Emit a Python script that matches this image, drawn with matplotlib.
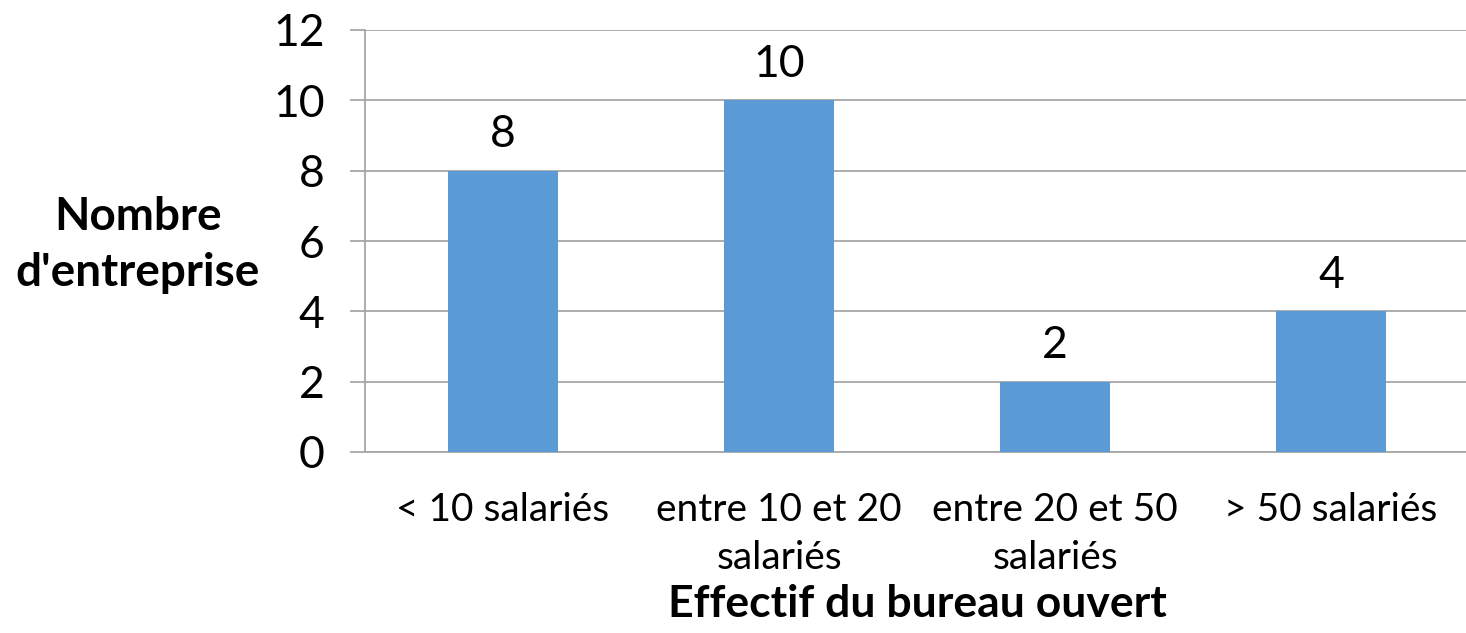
import matplotlib
matplotlib.use("Agg")
import matplotlib.pyplot as plt

categories = ["< 10 salariés", "entre 10 et 20\nsalariés", "entre 20 et 50\nsalariés", "> 50 salariés"]
values = [8, 10, 2, 4]
yticks = [0, 2, 4, 6, 8, 10, 12]

plt.rcParams['font.family'] = ['Lato', 'DejaVu Sans']

W, H = 1466, 633
fig = plt.figure(figsize=(W / 100, H / 100), dpi=100)
left, right, top, bottom = 365, 1469, 30, 452
ax = fig.add_axes([left / W, 1 - bottom / H, (right - left) / W, (bottom - top) / H])

x = list(range(len(categories)))
ax.bar(x, values, width=0.4, color="#5B9BD5", zorder=3)
for xi, v in zip(x, values):
    ax.text(xi, v + 0.45, str(v), ha="center", va="bottom", fontsize=32, color="black")

ax.set_xlim(-0.5, len(categories) - 0.5)
ax.set_ylim(0, 12)
ax.set_yticks(yticks)
ax.set_yticklabels([str(t) for t in yticks], fontsize=32)
ax.set_xticks(x)
ax.set_xticklabels(categories, fontsize=28, linespacing=1.4)
ax.tick_params(axis="x", length=0, pad=29)
ax.tick_params(axis="y", length=11, width=1.3, color="#A6A6A6", pad=18)
ax.yaxis.grid(True, color="#A6A6A6", linewidth=1.3, zorder=0)
for s in ["top", "right"]:
    ax.spines[s].set_visible(False)
for s in ["left", "bottom"]:
    ax.spines[s].set_color("#A6A6A6")
    ax.spines[s].set_linewidth(1.3)

ax.set_xlabel("Effectif du bureau ouvert", fontsize=32, fontweight="bold", labelpad=6)
fig.text(138 / W, 1 - 245 / H, "Nombre\nd'entreprise", fontsize=33, fontweight="bold",
         ha="center", va="center", linespacing=1.4)

fig.savefig("out.png", dpi=100)
